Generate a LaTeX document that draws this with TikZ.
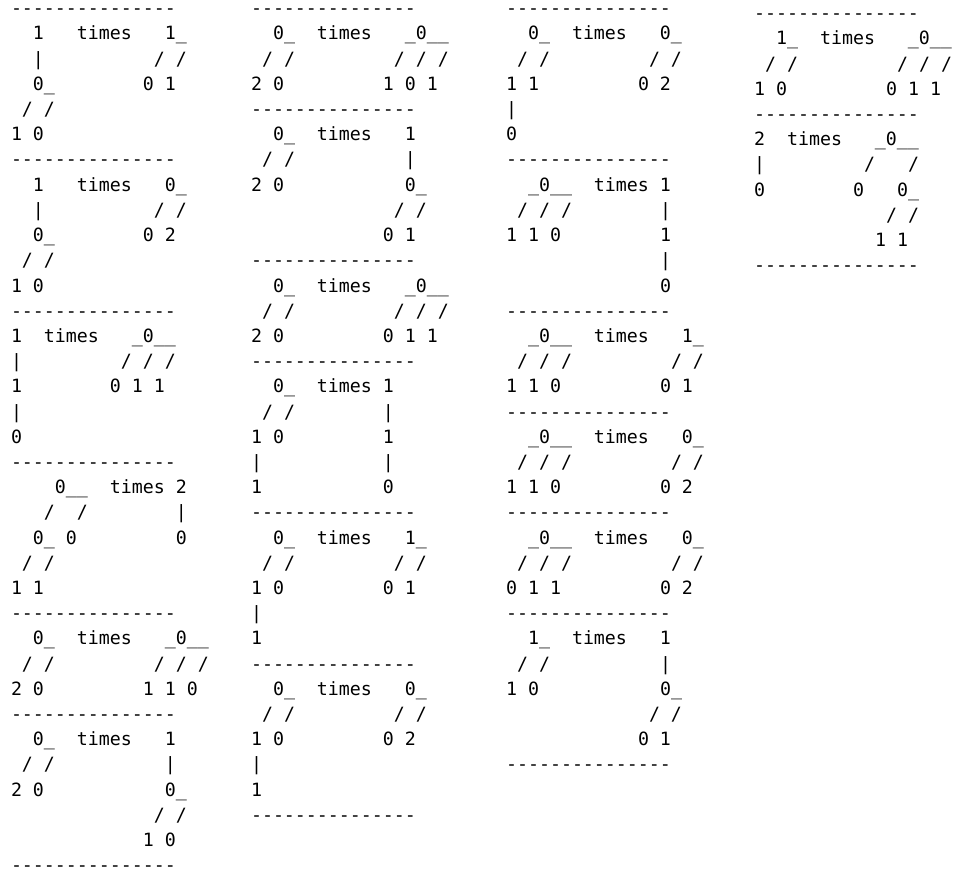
\documentclass[tikz,border=0pt]{standalone}
\usepackage{fontspec}
\setmonofont{DejaVu Sans Mono}
\tikzset{
  ascii/.style={anchor=base west, inner sep=0pt, outer sep=0pt,
    font=\ttfamily\fontsize{18.27}{22}\selectfont, text=black},
}

\begin{document}
\begin{tikzpicture}[x=1pt,y=-1pt]
    \useasboundingbox (0,0) rectangle (957,869);
    \def\rh{25.2}
    \def\sep{---------------}
    % first column
    \foreach \r/\txt in {0/\sep,
        1/{~~1~~~times~~~1\_}, 2/{~~|~~~~~~~~~~/~/}, 3/{~~0\_~~~~~~~~0~1}, 4/{~/~/}, 5/{1~0}, 6/\sep,
        7/{~~1~~~times~~~0\_}, 8/{~~|~~~~~~~~~~/~/}, 9/{~~0\_~~~~~~~~0~2}, 10/{~/~/}, 11/{1~0}, 12/\sep,
        13/{1~~times~~~\_0\_\_}, 14/{|~~~~~~~~~/~/~/}, 15/{1~~~~~~~~0~1~1}, 16/{|}, 17/{0}, 18/\sep,
        19/{~~~~0\_\_~~times~2}, 20/{~~~/~~/~~~~~~~~|}, 21/{~~0\_~0~~~~~~~~~0}, 22/{~/~/}, 23/{1~1}, 24/\sep,
        25/{~~0\_~~times~~~\_0\_\_}, 26/{~/~/~~~~~~~~~/~/~/}, 27/{2~0~~~~~~~~~1~1~0}, 28/\sep,
        29/{~~0\_~~times~~~1}, 30/{~/~/~~~~~~~~~~|}, 31/{2~0~~~~~~~~~~~0\_},
        32/{~~~~~~~~~~~~~/~/}, 33/{~~~~~~~~~~~~1~0}, 34/\sep}
        \node[ascii] (a\r) at (11, 14.8+\rh*\r) {\txt};
    % second column
    \foreach \r/\txt in {0/\sep,
        1/{~~0\_~~times~~~\_0\_\_}, 2/{~/~/~~~~~~~~~/~/~/}, 3/{2~0~~~~~~~~~1~0~1}, 4/\sep,
        5/{~~0\_~~times~~~1}, 6/{~/~/~~~~~~~~~~|}, 7/{2~0~~~~~~~~~~~0\_},
        8/{~~~~~~~~~~~~~/~/}, 9/{~~~~~~~~~~~~0~1}, 10/\sep,
        11/{~~0\_~~times~~~\_0\_\_}, 12/{~/~/~~~~~~~~~/~/~/}, 13/{2~0~~~~~~~~~0~1~1}, 14/\sep,
        15/{~~0\_~~times~1}, 16/{~/~/~~~~~~~~|}, 17/{1~0~~~~~~~~~1}, 18/{|~~~~~~~~~~~|}, 19/{1~~~~~~~~~~~0}, 20/\sep,
        21/{~~0\_~~times~~~1\_}, 22/{~/~/~~~~~~~~~/~/}, 23/{1~0~~~~~~~~~0~1}, 24/{|}, 25/{1}, 26/\sep,
        27/{~~0\_~~times~~~0\_}, 28/{~/~/~~~~~~~~~/~/}, 29/{1~0~~~~~~~~~0~2}, 30/{|}, 31/{1}, 32/\sep}
        \node[ascii] (b\r) at (251, 14.8+\rh*\r) {\txt};
    % third column
    \foreach \r/\txt in {0/\sep,
        1/{~~0\_~~times~~~0\_}, 2/{~/~/~~~~~~~~~/~/}, 3/{1~1~~~~~~~~~0~2}, 4/{|}, 5/{0}, 6/\sep,
        7/{~~\_0\_\_~~times~1}, 8/{~/~/~/~~~~~~~~|}, 9/{1~1~0~~~~~~~~~1},
        10/{~~~~~~~~~~~~~~|}, 11/{~~~~~~~~~~~~~~0}, 12/\sep,
        13/{~~\_0\_\_~~times~~~1\_}, 14/{~/~/~/~~~~~~~~~/~/}, 15/{1~1~0~~~~~~~~~0~1}, 16/\sep,
        17/{~~\_0\_\_~~times~~~0\_}, 18/{~/~/~/~~~~~~~~~/~/}, 19/{1~1~0~~~~~~~~~0~2}, 20/\sep,
        21/{~~\_0\_\_~~times~~~0\_}, 22/{~/~/~/~~~~~~~~~/~/}, 23/{0~1~1~~~~~~~~~0~2}, 24/\sep,
        25/{~~1\_~~times~~~1}, 26/{~/~/~~~~~~~~~~|}, 27/{1~0~~~~~~~~~~~0\_},
        28/{~~~~~~~~~~~~~/~/}, 29/{~~~~~~~~~~~~0~1}, 30/\sep}
        \node[ascii] (c\r) at (506, 14.8+\rh*\r) {\txt};
    % fourth column
    \foreach \r/\txt in {0/\sep,
        1/{~~1\_~~times~~~\_0\_\_}, 2/{~/~/~~~~~~~~~/~/~/}, 3/{1~0~~~~~~~~~0~1~1}, 4/\sep,
        5/{2~~times~~~\_0\_\_}, 6/{|~~~~~~~~~/~~~/}, 7/{0~~~~~~~~0~~~0\_},
        8/{~~~~~~~~~~~~/~/}, 9/{~~~~~~~~~~~1~1}, 10/\sep}
        \node[ascii] (d\r) at (754, 19.8+\rh*\r) {\txt};
\end{tikzpicture}
\end{document}
